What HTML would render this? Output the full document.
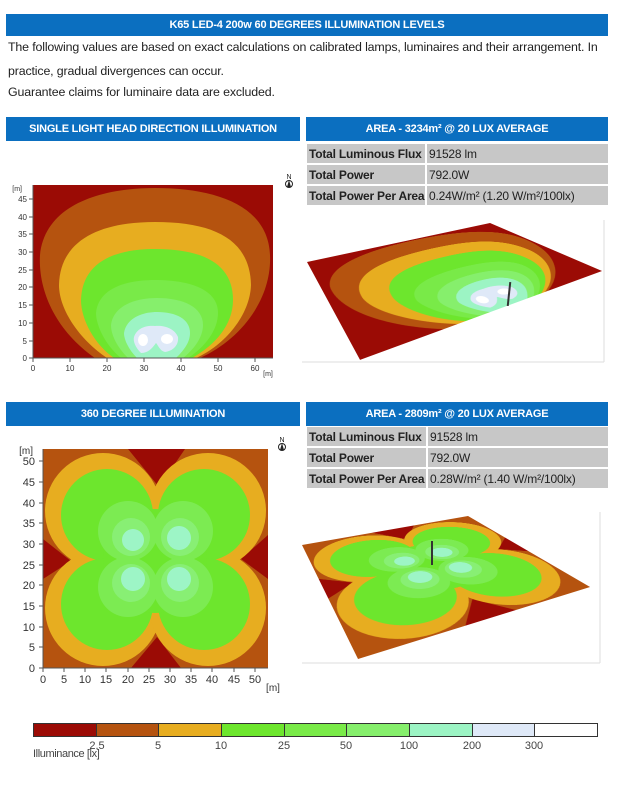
<!DOCTYPE html>
<html><head><meta charset="utf-8">
<style>
*{margin:0;padding:0;box-sizing:border-box}
body{width:627px;height:791px;background:#fff;position:relative;overflow:hidden;font-family:"Liberation Sans",sans-serif;color:#222}
.abs{position:absolute}
.bar{position:absolute;background:#0b6fc0;color:#fff;font-weight:bold;font-size:11px;text-align:center;display:flex;align-items:center;justify-content:center;letter-spacing:-0.2px}
.p{position:absolute;left:8px;font-size:12.4px;color:#222;white-space:nowrap;letter-spacing:-0.15px}
.c{position:absolute;background:#c7c7c7;font-size:12px;display:flex;align-items:center;padding-left:2px;white-space:nowrap;letter-spacing:-0.2px}
.b{font-weight:bold}
.lg{position:absolute;top:740px;font-size:11px;color:#444;transform:translateX(-50%)}
</style></head><body>
<div class="bar" style="left:6px;top:14px;width:602px;height:22px">K65 LED-4 200w 60 DEGREES ILLUMINATION LEVELS</div>
<div class="p" style="top:40px">The following values are based on exact calculations on calibrated lamps, luminaires and their arrangement. In</div>
<div class="p" style="top:64px">practice, gradual divergences can occur.</div>
<div class="p" style="top:85px">Guarantee claims for luminaire data are excluded.</div>

<div class="bar" style="left:6px;top:117px;width:294px;height:24px">SINGLE LIGHT HEAD DIRECTION ILLUMINATION</div>
<div class="bar" style="left:306px;top:117px;width:302px;height:24px">AREA - 3234m² @ 20 LUX AVERAGE</div>
<div class="c b" style="left:307px;top:144px;width:118px;height:19px">Total Luminous Flux</div>
<div class="c" style="left:427px;top:144px;width:181px;height:19px">91528 lm</div>
<div class="c b" style="left:307px;top:165px;width:118px;height:19px">Total Power</div>
<div class="c" style="left:427px;top:165px;width:181px;height:19px">792.0W</div>
<div class="c b" style="left:307px;top:186px;width:118px;height:19px">Total Power Per Area</div>
<div class="c" style="left:427px;top:186px;width:181px;height:19px">0.24W/m² (1.20 W/m²/100lx)</div>

<div class="bar" style="left:6px;top:402px;width:294px;height:24px">360 DEGREE ILLUMINATION</div>
<div class="bar" style="left:306px;top:402px;width:302px;height:24px">AREA - 2809m² @ 20 LUX AVERAGE</div>
<div class="c b" style="left:307px;top:427px;width:119px;height:19px">Total Luminous Flux</div>
<div class="c" style="left:428px;top:427px;width:180px;height:19px">91528 lm</div>
<div class="c b" style="left:307px;top:448px;width:119px;height:19px">Total Power</div>
<div class="c" style="left:428px;top:448px;width:180px;height:19px">792.0W</div>
<div class="c b" style="left:307px;top:469px;width:119px;height:19px">Total Power Per Area</div>
<div class="c" style="left:428px;top:469px;width:180px;height:19px">0.28W/m² (1.40 W/m²/100lx)</div>

<svg class="abs" style="left:0;top:0" width="627" height="791">
<defs>
<clipPath id="c1"><rect x="0" y="0" width="240" height="173"/></clipPath>
<clipPath id="c2"><rect x="0" y="0" width="225" height="219"/></clipPath>
<g id="g1" clip-path="url(#c1)">
<rect width="240" height="173" fill="#9b0b05"/>
<path d="M62,173 C22,145 5,105 7,70 C12,20 67,3 122,3 C182,3 235,20 237,70 C239,115 207,155 167,173Z" fill="#b5530f"/>
<path d="M74,173 C47,155 26,125 26,100 C27,55 67,37 122,37 C182,37 217,55 218,100 C217,130 192,160 163,173Z" fill="#e7ad20"/>
<path d="M81,173 C62,160 48,135 48,115 C49,80 77,64 122,64 C172,64 200,80 200,115 C200,140 182,160 159,173Z" fill="#6de62d"/>
<path d="M88,173 C72,160 63,140 63,128 C65,105 90,95 122,95 C158,95 185,105 185,128 C185,145 172,162 155,173Z" fill="#79ea48"/>
<path d="M95,173 C84,162 78,150 78,140 C80,122 100,113 124,113 C150,113 170,122 170,140 C170,153 160,165 150,173Z" fill="#86ef6c"/>
<path d="M104,173 C96,165 91,155 91,148 C93,134 108,127 124,127 C143,127 157,134 157,148 C157,158 150,166 143,173Z" fill="#9cf4c4"/>
<path d="M108,168 C102,162 100,156 101,152 C104,143 113,140 122,141 C132,140 142,144 145,152 C146,160 140,166 132,167 C127,166 125,160 123,158 C120,162 116,168 108,168Z" fill="#dfe9f8"/>
<ellipse cx="110" cy="155" rx="5" ry="6" fill="#fff"/>
<ellipse cx="134" cy="154" rx="6" ry="5" fill="#fff"/>
</g>
<g id="g2" clip-path="url(#c2)">
<rect width="225" height="219" fill="#b5530f"/>
<path d="M85,0 L142,0 L116,38Z M0,90 L0,130 L28,112Z M225,86 L225,130 L198,110Z M88,219 L138,219 L114,188Z" fill="#9b0b05"/>
<circle cx="60" cy="62" r="58" fill="#e7ad20"/><circle cx="165" cy="62" r="58" fill="#e7ad20"/>
<circle cx="60" cy="159" r="58" fill="#e7ad20"/><circle cx="165" cy="159" r="58" fill="#e7ad20"/>
<rect x="60" y="62" width="105" height="97" fill="#e7ad20"/>
<circle cx="64" cy="66" r="46" fill="#6de62d"/><circle cx="161" cy="66" r="46" fill="#6de62d"/>
<circle cx="64" cy="155" r="46" fill="#6de62d"/><circle cx="161" cy="155" r="46" fill="#6de62d"/>
<circle cx="112" cy="112" r="52" fill="#6de62d"/>
<circle cx="85" cy="82" r="30" fill="#7ceb52"/><circle cx="140" cy="82" r="30" fill="#7ceb52"/>
<circle cx="85" cy="138" r="30" fill="#7ceb52"/><circle cx="140" cy="138" r="30" fill="#7ceb52"/>
<circle cx="88" cy="88" r="19" fill="#88ef74"/><circle cx="137" cy="88" r="19" fill="#88ef74"/>
<circle cx="88" cy="134" r="19" fill="#88ef74"/><circle cx="137" cy="134" r="19" fill="#88ef74"/>
<circle cx="90" cy="91" r="11" fill="#9df5c6"/><circle cx="136" cy="89" r="12" fill="#9df5c6"/>
<circle cx="90" cy="130" r="12" fill="#9df5c6"/><circle cx="136" cy="130" r="12" fill="#9df5c6"/>
</g>
</defs>
<use href="#g1" x="33" y="185"/>
<use href="#g2" x="43" y="449"/>
<g stroke="#555" stroke-width="1">
<line x1="33" y1="185" x2="33" y2="362"/><line x1="29" y1="358" x2="273" y2="358"/>
<line x1="29" y1="341" x2="33" y2="341"/><line x1="29" y1="323" x2="33" y2="323"/><line x1="29" y1="305" x2="33" y2="305"/><line x1="29" y1="287" x2="33" y2="287"/><line x1="29" y1="270" x2="33" y2="270"/><line x1="29" y1="252" x2="33" y2="252"/><line x1="29" y1="234" x2="33" y2="234"/><line x1="29" y1="217" x2="33" y2="217"/><line x1="29" y1="199" x2="33" y2="199"/>
<line x1="70" y1="358" x2="70" y2="362"/><line x1="107" y1="358" x2="107" y2="362"/><line x1="144" y1="358" x2="144" y2="362"/><line x1="181" y1="358" x2="181" y2="362"/><line x1="218" y1="358" x2="218" y2="362"/><line x1="255" y1="358" x2="255" y2="362"/>
<line x1="43" y1="449" x2="43" y2="672"/><line x1="39" y1="668" x2="268" y2="668"/>
<line x1="39" y1="647" x2="43" y2="647"/><line x1="39" y1="627" x2="43" y2="627"/><line x1="39" y1="606" x2="43" y2="606"/><line x1="39" y1="585" x2="43" y2="585"/><line x1="39" y1="565" x2="43" y2="565"/><line x1="39" y1="544" x2="43" y2="544"/><line x1="39" y1="523" x2="43" y2="523"/><line x1="39" y1="503" x2="43" y2="503"/><line x1="39" y1="482" x2="43" y2="482"/><line x1="39" y1="461" x2="43" y2="461"/>
<line x1="64" y1="668" x2="64" y2="672"/><line x1="85" y1="668" x2="85" y2="672"/><line x1="106" y1="668" x2="106" y2="672"/><line x1="128" y1="668" x2="128" y2="672"/><line x1="149" y1="668" x2="149" y2="672"/><line x1="170" y1="668" x2="170" y2="672"/><line x1="191" y1="668" x2="191" y2="672"/><line x1="212" y1="668" x2="212" y2="672"/><line x1="234" y1="668" x2="234" y2="672"/><line x1="255" y1="668" x2="255" y2="672"/></g>
<g font-family="Liberation Sans" font-size="8" fill="#333" text-anchor="end">
<text x="27" y="361">0</text><text x="27" y="344">5</text><text x="27" y="326">10</text><text x="27" y="308">15</text><text x="27" y="290">20</text><text x="27" y="273">25</text><text x="27" y="255">30</text><text x="27" y="237">35</text><text x="27" y="220">40</text><text x="27" y="202">45</text>
<text x="22" y="191" font-size="7">[m]</text>
</g>
<g font-family="Liberation Sans" font-size="8" fill="#333" text-anchor="middle">
<text x="33" y="371">0</text><text x="70" y="371">10</text><text x="107" y="371">20</text><text x="144" y="371">30</text><text x="181" y="371">40</text><text x="218" y="371">50</text><text x="255" y="371">60</text>
<text x="268" y="376" font-size="7">[m]</text>
</g>
<g font-family="Liberation Sans" font-size="11" fill="#333" text-anchor="end">
<text x="35" y="672">0</text><text x="35" y="651">5</text><text x="35" y="631">10</text><text x="35" y="610">15</text><text x="35" y="589">20</text><text x="35" y="569">25</text><text x="35" y="548">30</text><text x="35" y="527">35</text><text x="35" y="507">40</text><text x="35" y="486">45</text><text x="35" y="465">50</text>
<text x="33" y="454" font-size="10">[m]</text>
</g>
<g font-family="Liberation Sans" font-size="11" fill="#333" text-anchor="middle">
<text x="43" y="683">0</text><text x="64" y="683">5</text><text x="85" y="683">10</text><text x="106" y="683">15</text><text x="128" y="683">20</text><text x="149" y="683">25</text><text x="170" y="683">30</text><text x="191" y="683">35</text><text x="212" y="683">40</text><text x="234" y="683">45</text><text x="255" y="683">50</text>
<text x="273" y="691" font-size="10">[m]</text>
</g>
<g font-family="Liberation Sans" font-size="7" fill="#222" text-anchor="middle"><text x="289" y="179">N</text><text x="282" y="442">N</text></g>
<circle cx="289" cy="184" r="3.5" fill="none" stroke="#222"/><path d="M289,180 L291,187 L287,187Z" fill="#222"/>
<circle cx="282" cy="447" r="3.5" fill="none" stroke="#222"/><path d="M282,443 L284,450 L280,450Z" fill="#222"/>
<line x1="604" y1="220" x2="604" y2="362" stroke="#ddd"/><line x1="302" y1="362" x2="604" y2="362" stroke="#ddd"/>
<line x1="600" y1="512" x2="600" y2="663" stroke="#ddd"/><line x1="302" y1="663" x2="600" y2="663" stroke="#ddd"/>
<g stroke="#333" stroke-width="1">
<rect x="33.5" y="723.5" width="63" height="13" fill="#9b0b05"/>
<rect x="96.5" y="723.5" width="62" height="13" fill="#b5530f"/>
<rect x="158.5" y="723.5" width="63" height="13" fill="#e7ad20"/>
<rect x="221.5" y="723.5" width="63" height="13" fill="#6de62d"/>
<rect x="284.5" y="723.5" width="62" height="13" fill="#79ea48"/>
<rect x="346.5" y="723.5" width="63" height="13" fill="#86ef6c"/>
<rect x="409.5" y="723.5" width="63" height="13" fill="#9cf4c4"/>
<rect x="472.5" y="723.5" width="62" height="13" fill="#dfe9f8"/>
<rect x="534.5" y="723.5" width="63" height="13" fill="#fff"/>
</g>
</svg>
<div class="abs" style="left:0;top:0;width:240px;height:173px;transform-origin:0 0;transform:matrix3d(1.4104,0.1325,0,0.001322,-0.5064,-0.2468,0,-0.002258,0,0,1,0,307,262,0,1)">
<svg width="240" height="173"><use href="#g1"/></svg></div>
<div class="abs" style="left:0;top:0;width:225px;height:219px;transform-origin:0 0;transform:matrix3d(1.168,0.3453,0,0.000919,-0.3872,-0.663,0,-0.001796,0,0,1,0,302,545,0,1)">
<svg width="225" height="219"><use href="#g2"/></svg></div>
<div class="abs" style="left:508px;top:282px;width:2px;height:24px;background:#333;transform:rotate(6deg)"></div>
<div class="abs" style="left:431px;top:541px;width:2px;height:24px;background:#333"></div>

<div class="lg" style="left:97px">2.5</div><div class="lg" style="left:158px">5</div><div class="lg" style="left:221px">10</div><div class="lg" style="left:284px">25</div><div class="lg" style="left:346px">50</div><div class="lg" style="left:409px">100</div><div class="lg" style="left:472px">200</div><div class="lg" style="left:534px">300</div>
<div class="abs" style="left:33px;top:748px;font-size:11px;color:#444;letter-spacing:-0.4px">Illuminance [lx]</div>
</body></html>
